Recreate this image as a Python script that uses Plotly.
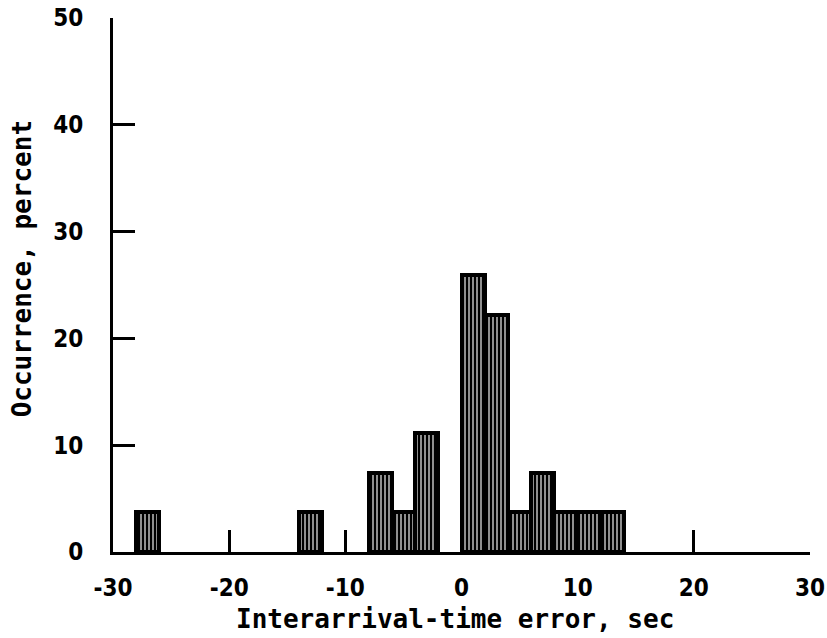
import plotly.graph_objects as go

# Histogram bins (sec), 2-s wide, left edges
bin_left = [-28, -14, -8, -6, -4, 0, 2, 4, 6, 8, 10, 12]
occurrence = [3.7, 3.7, 7.4, 3.7, 11.1, 25.9, 22.2, 3.7, 7.4, 3.7, 3.7, 3.7]
bin_width = 2

x_ticks = [-30, -20, -10, 0, 10, 20, 30]
y_ticks = [0, 10, 20, 30, 40, 50]

x_centers = [b + bin_width / 2 for b in bin_left]

fig = go.Figure()
fig.add_trace(go.Bar(
    x=x_centers,
    y=occurrence,
    width=[bin_width] * len(bin_left),
    marker=dict(
        color="white",
        line=dict(color="black", width=4),
        pattern=dict(shape="|", fgcolor="black", bgcolor="white", size=4, solidity=0.72),
    ),
    showlegend=False,
))

tick_font = dict(family="DejaVu Sans Condensed", size=24, color="black", weight="bold")
title_font = dict(family="DejaVu Sans Mono", size=26, color="black", weight="bold")

fig.update_xaxes(
    range=[-30, 30],
    tickvals=x_ticks,
    ticktext=[str(v) for v in x_ticks],
    ticks="inside",
    ticklen=22,
    tickwidth=3,
    tickcolor="black",
    showline=True,
    linecolor="black",
    linewidth=3,
    showgrid=False,
    zeroline=False,
    tickfont=tick_font,
    ticklabelstandoff=12,
    automargin=False,
)
fig.update_yaxes(
    range=[0, 50],
    tickvals=y_ticks,
    ticktext=[str(v) for v in y_ticks],
    ticks="inside",
    ticklen=22,
    tickwidth=3,
    tickcolor="black",
    showline=True,
    linecolor="black",
    linewidth=3,
    showgrid=False,
    zeroline=False,
    tickfont=tick_font,
    ticklabelstandoff=22,
    automargin=False,
)

fig.add_annotation(
    text="Interarrival-time error, sec",
    xref="paper", yref="paper",
    x=0.49, y=-0.125,
    xanchor="center", yanchor="middle",
    showarrow=False,
    font=title_font,
)
fig.add_annotation(
    text="Occurrence, percent",
    xref="paper", yref="paper",
    x=-0.13, y=0.53,
    xanchor="center", yanchor="middle",
    textangle=-90,
    showarrow=False,
    font=title_font,
)

fig.update_layout(
    template="none",
    width=827,
    height=638,
    margin=dict(l=113, r=17, t=18, b=86),
    plot_bgcolor="white",
    paper_bgcolor="white",
    bargap=0,
)

fig.write_html("out.html")
